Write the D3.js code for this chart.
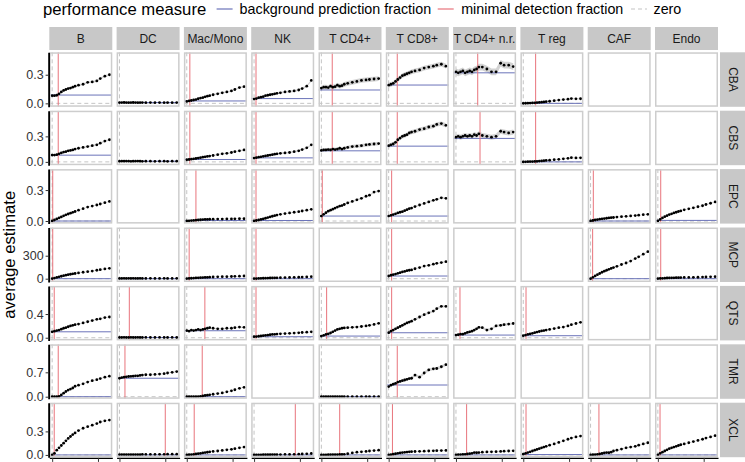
<!DOCTYPE html>
<html>
<head>
<meta charset="utf-8">
<script src="https://cdn.jsdelivr.net/npm/d3@7"></script>
<style>
  body { margin: 0; background: #fff; }
  svg { display: block; }
  text { font-family: "Liberation Sans", Arial, Helvetica, sans-serif; }
</style>
</head>
<body>
<script>
// facets
const methods = ["CBA", "CBS", "EPC", "MCP", "QTS", "TMR", "XCL"];
const cellTypes = ["B", "DC", "Mac/Mono", "NK", "T CD4+", "T CD8+", "T CD4+ n.r.", "T reg", "CAF", "Endo"];
const legendLabels = ["background prediction fraction", "minimal detection fraction", "zero"];

// fraction of spiked-in cells (x)
const fractions = [0, 0.02, 0.04, 0.06, 0.08, 0.1, 0.12, 0.14, 0.16, 0.18, 0.2,
                   0.23, 0.27, 0.31, 0.35, 0.39, 0.42, 0.46, 0.5];

// average estimate per method / cell type
const estCBA = {
  "B":           [0.08,0.08,0.085,0.1,0.12,0.135,0.145,0.155,0.16,0.17,0.18,0.19,0.2,0.22,0.225,0.235,0.26,0.285,0.3],
  "DC":          [0.008,0.008,0.009,0.008,0.007,0.008,0.009,0.008,0.007,0.008,0.008,0.007,0.008,0.007,0.008,0.007,0.008,0.007,0.008],
  "Mac/Mono":    [0.02,0.025,0.03,0.035,0.04,0.048,0.055,0.06,0.068,0.075,0.08,0.09,0.1,0.11,0.12,0.13,0.145,0.165,0.175],
  "NK":          [0.045,0.05,0.06,0.065,0.07,0.08,0.085,0.09,0.095,0.1,0.105,0.11,0.12,0.125,0.13,0.14,0.155,0.18,0.24],
  "T CD4+":      [0.16,0.17,0.17,0.165,0.18,0.17,0.175,0.19,0.18,0.185,0.2,0.21,0.22,0.23,0.24,0.245,0.25,0.255,0.26],
  "T CD8+":      [0.19,0.2,0.21,0.23,0.25,0.27,0.29,0.3,0.31,0.32,0.33,0.34,0.35,0.37,0.38,0.39,0.4,0.41,0.39],
  "T CD4+ n.r.": [0.33,0.32,0.33,0.34,0.32,0.33,0.34,0.33,0.35,0.36,0.38,0.38,0.36,0.33,0.33,0.42,0.4,0.4,0.385],
  "T reg":       [0,0.001,0.002,0.003,0.004,0.006,0.008,0.01,0.012,0.015,0.018,0.022,0.028,0.034,0.04,0.044,0.05,0.047,0.048]
};
const estCBS = {
  "B":           [0.08,0.08,0.085,0.095,0.105,0.115,0.12,0.13,0.135,0.14,0.15,0.16,0.17,0.18,0.19,0.2,0.22,0.245,0.26],
  "DC":          [0.008,0.008,0.008,0.009,0.008,0.007,0.008,0.008,0.009,0.008,0.007,0.008,0.008,0.007,0.008,0.008,0.007,0.008,0.008],
  "Mac/Mono":    [0.025,0.028,0.032,0.036,0.04,0.045,0.05,0.055,0.06,0.064,0.068,0.075,0.085,0.095,0.1,0.11,0.12,0.13,0.14],
  "NK":          [0.045,0.05,0.055,0.06,0.065,0.07,0.075,0.08,0.085,0.09,0.095,0.1,0.105,0.11,0.12,0.13,0.145,0.165,0.2],
  "T CD4+":      [0.135,0.14,0.14,0.145,0.14,0.15,0.145,0.15,0.16,0.15,0.16,0.17,0.18,0.185,0.19,0.2,0.205,0.21,0.215],
  "T CD8+":      [0.19,0.2,0.21,0.23,0.26,0.28,0.3,0.31,0.32,0.34,0.35,0.36,0.38,0.39,0.41,0.42,0.44,0.45,0.43],
  "T CD4+ n.r.": [0.29,0.3,0.29,0.3,0.31,0.3,0.31,0.3,0.32,0.31,0.33,0.31,0.3,0.29,0.3,0.36,0.35,0.34,0.35],
  "T reg":       [0,0.001,0.002,0.003,0.004,0.005,0.007,0.009,0.011,0.014,0.017,0.02,0.026,0.03,0.036,0.042,0.05,0.046,0.048]
};
const estEPC = {
  "B":           [0,0.01,0.02,0.03,0.04,0.05,0.06,0.068,0.076,0.084,0.092,0.105,0.12,0.135,0.145,0.155,0.165,0.178,0.19],
  "Mac/Mono":    [0,0.002,0.004,0.006,0.008,0.01,0.012,0.014,0.015,0.016,0.017,0.018,0.019,0.019,0.02,0.02,0.021,0.022,0.022],
  "NK":          [0,0.005,0.01,0.015,0.02,0.027,0.033,0.04,0.046,0.052,0.058,0.065,0.072,0.078,0.085,0.09,0.097,0.105,0.113],
  "T CD4+":      [0.048,0.065,0.08,0.095,0.105,0.115,0.125,0.135,0.145,0.15,0.16,0.175,0.19,0.205,0.22,0.24,0.25,0.28,0.29],
  "T CD8+":      [0.048,0.055,0.062,0.07,0.078,0.085,0.09,0.1,0.11,0.12,0.125,0.14,0.155,0.17,0.185,0.2,0.21,0.225,0.22],
  "CAF":         [0,0.005,0.01,0.014,0.018,0.021,0.024,0.027,0.03,0.032,0.034,0.038,0.042,0.045,0.049,0.053,0.057,0.061,0.065],
  "Endo":        [0,0.015,0.03,0.042,0.052,0.062,0.07,0.078,0.085,0.092,0.098,0.108,0.118,0.128,0.138,0.148,0.16,0.172,0.185]
};
const estMCP = {
  "B":           [2,8,16,24,32,40,46,52,58,63,68,75,84,92,100,110,118,127,135],
  "DC":          [4,4,5,4,5,4,5,4,4,5,4,4,5,4,4,5,4,4,5],
  "Mac/Mono":    [2,4,6,8,10,12,14,15,17,18,20,22,24,26,27,29,31,33,35],
  "NK":          [1,2,4,5,6,7,8,9,10,11,12,13,15,16,18,19,21,23,26],
  "T CD8+":      [35,45,52,60,70,78,88,95,105,110,115,130,145,165,175,190,200,210,222],
  "CAF":         [0,18,36,52,68,84,98,110,122,134,145,162,185,205,230,262,285,320,352],
  "Endo":        [1,3,5,7,9,10,11,12,13,14,15,16,17,18,19,21,22,24,26]
};
const estQTS = {
  "B":           [0.1,0.11,0.12,0.13,0.145,0.16,0.17,0.185,0.2,0.21,0.22,0.23,0.25,0.27,0.29,0.31,0.32,0.34,0.35],
  "DC":          [0.004,0.004,0.005,0.004,0.004,0.005,0.004,0.004,0.005,0.004,0.004,0.005,0.004,0.004,0.005,0.004,0.004,0.005,0.004],
  "Mac/Mono":    [0.12,0.11,0.13,0.12,0.13,0.14,0.13,0.14,0.15,0.16,0.17,0.16,0.15,0.15,0.16,0.16,0.17,0.18,0.175],
  "NK":          [0.017,0.02,0.025,0.03,0.035,0.04,0.045,0.05,0.055,0.058,0.062,0.066,0.07,0.074,0.078,0.083,0.088,0.094,0.1],
  "T CD4+":      [0.028,0.04,0.055,0.065,0.08,0.1,0.12,0.14,0.15,0.16,0.165,0.17,0.175,0.18,0.19,0.2,0.21,0.225,0.243],
  "T CD8+":      [0.084,0.11,0.13,0.15,0.17,0.19,0.21,0.23,0.25,0.265,0.28,0.31,0.35,0.39,0.42,0.45,0.49,0.53,0.53],
  "T CD4+ n.r.": [0.045,0.05,0.06,0.06,0.075,0.09,0.1,0.11,0.13,0.15,0.175,0.17,0.13,0.15,0.2,0.21,0.22,0.23,0.24],
  "T reg":       [0.034,0.045,0.055,0.065,0.075,0.085,0.095,0.105,0.115,0.12,0.13,0.14,0.155,0.17,0.18,0.2,0.22,0.24,0.26]
};
const estTMR = {
  "B":           [0,0,0,0.01,0.05,0.1,0.15,0.19,0.22,0.25,0.3,0.33,0.37,0.42,0.46,0.49,0.52,0.56,0.59],
  "DC":          [0.53,0.55,0.56,0.57,0.58,0.585,0.59,0.6,0.6,0.61,0.62,0.63,0.63,0.64,0.65,0.66,0.68,0.7,0.72],
  "Mac/Mono":    [0,0,0,0,0,0.005,0.01,0.02,0.035,0.045,0.055,0.07,0.09,0.11,0.14,0.17,0.2,0.24,0.27],
  "T CD4+":      [0.002,0.002,0.002,0.002,0.002,0.002,0.002,0.002,0.002,0.002,0.002,0.002,0.002,0.002,0.002,0.002,0.002,0.002,0.002],
  "T CD8+":      [0.29,0.33,0.36,0.38,0.42,0.44,0.46,0.48,0.5,0.52,0.53,0.62,0.56,0.68,0.77,0.8,0.81,0.86,0.92]
};
const estXCL = {
  "B":           [0,0.02,0.06,0.09,0.12,0.15,0.18,0.21,0.235,0.26,0.28,0.31,0.34,0.36,0.38,0.4,0.42,0.435,0.445],
  "DC":          [0.004,0.004,0.004,0.005,0.004,0.005,0.005,0.004,0.005,0.005,0.006,0.006,0.007,0.007,0.008,0.008,0.009,0.01,0.01],
  "Mac/Mono":    [0,0.002,0.005,0.008,0.012,0.016,0.02,0.025,0.03,0.034,0.038,0.045,0.05,0.058,0.065,0.072,0.08,0.09,0.1],
  "NK":          [0,0,0.001,0.001,0.002,0.002,0.003,0.003,0.004,0.004,0.005,0.005,0.006,0.007,0.008,0.01,0.012,0.014,0.018],
  "T CD4+":      [0,0,0.001,0.002,0.003,0.004,0.005,0.005,0.006,0.007,0.008,0.015,0.025,0.035,0.04,0.045,0.05,0.055,0.06],
  "T CD8+":      [0,0.005,0.01,0.015,0.02,0.025,0.03,0.033,0.036,0.039,0.042,0.044,0.046,0.048,0.05,0.052,0.054,0.056,0.058],
  "T CD4+ n.r.": [0,0.002,0.004,0.006,0.008,0.012,0.016,0.02,0.03,0.028,0.03,0.035,0.038,0.04,0.042,0.045,0.048,0.05,0.052],
  "T reg":       [0.01,0.02,0.03,0.04,0.05,0.06,0.07,0.08,0.09,0.1,0.11,0.125,0.14,0.16,0.18,0.2,0.215,0.23,0.24],
  "CAF":         [0,0.002,0.005,0.008,0.012,0.018,0.025,0.03,0.028,0.035,0.05,0.06,0.075,0.09,0.1,0.11,0.125,0.14,0.155],
  "Endo":        [0,0.02,0.035,0.05,0.065,0.08,0.09,0.1,0.11,0.12,0.13,0.14,0.155,0.17,0.185,0.2,0.215,0.23,0.245]
};

// background prediction fraction (rows = methods, cols = cell types)
const backgroundFraction = [
  [0.087, 0.008, 0.025, 0.05, 0.14, 0.192, 0.32, 0.0, null, null],
  [0.079, 0.008, 0.028, 0.047, 0.13, 0.185, 0.276, 0.0, null, null],
  [0.0, null, 0.005, 0.005, 0.048, 0.048, null, null, 0.0, 0.006],
  [0, 0, 0, 0, null, 35, null, null, 0, 0],
  [0.1, 0.004, 0.118, 0.017, 0.028, 0.084, 0.045, 0.034, null, null],
  [0, 0.53, 0, null, 0, 0.336, null, null, null, null],
  [0, 0, 0, 0, 0, 0, 0, 0.005, 0, 0]
];
// minimal detection fraction
const minDetection = [
  [0.053, null, 0.027, 0.017, 0.095, 0.075, 0.19, 0.108, null, null],
  [0.053, null, 0.027, 0.017, 0.095, 0.075, 0.21, 0.108, null, null],
  [0.005, null, 0.08, 0.017, 0.008, 0.026, null, null, 0.024, 0.025],
  [0.005, null, 0.021, 0.017, null, 0.026, null, null, 0.018, 0.025],
  [0.018, 0.086, 0.158, 0.017, 0.046, 0.026, 0.035, 0.024, null, null],
  [0.053, 0.048, 0.135, null, null, 0.075, null, null, null, null],
  [0.018, 0.4, 0.065, 0.36, 0.16, 0.033, 0.093, 0.024, 0.073, 0.019]
];
// half width of confidence band
const ciHalf = [
  [0.01, 0.003, 0.008, 0.01, 0.025, 0.025, 0.035, 0.006, 0, 0],
  [0.01, 0.003, 0.008, 0.01, 0.02, 0.025, 0.03, 0.005, 0, 0],
  [0.004, 0, 0.003, 0.004, 0.008, 0.008, 0, 0, 0.003, 0.004],
  [5, 1, 2, 1, 0, 8, 0, 0, 8, 1],
  [0.01, 0.003, 0.01, 0.005, 0.012, 0.02, 0.02, 0.008, 0, 0],
  [0.015, 0.015, 0.01, 0, 0.002, 0.04, 0, 0, 0, 0],
  [0.005, 0.002, 0.004, 0.002, 0.004, 0.004, 0.005, 0.005, 0.008, 0.005]
];
// y axis ticks per row
const yTicks = [[0, 0.3], [0, 0.3], [0, 0.3], [0, 300], [0, 0.4], [0, 0.7], [0, 0.3]];
const xTicks = [0, 0.4];

const estimates = [estCBA, estCBS, estEPC, estMCP, estQTS, estTMR, estXCL];
const yDomains = [[-0.036, 0.535], [-0.039, 0.602], [-0.025, 0.503], [-43, 668],
                  [-0.045, 0.875], [-0.06, 1.504], [-0.029, 0.666]];

const width = 745, height = 462;
const blue = "#6b73b9", red = "#e8747c", zeroCol = "#c4c4c4";
const stripFill = "#c8c8c8", borderCol = "#cdcdcd";

const svg = d3.select("body").append("svg")
  .attr("width", width)
  .attr("height", height);

const colX = d3.scaleBand().domain(cellTypes).range([49.3, 718]).paddingInner(0.064);
const rowY = d3.scaleBand().domain(methods).range([52.3, 457.2]).paddingInner(0.067);
const pw = colX.bandwidth(), ph = rowY.bandwidth();

const x = d3.scaleLinear().domain([-0.025, 0.525]).range([0, pw]);

svg.append("defs").append("clipPath").attr("id", "panelclip")
  .append("rect").attr("width", pw).attr("height", ph);

// legend
const legend = svg.append("g");
legend.append("text").attr("x", 43).attr("y", 15)
  .attr("font-size", 16.7).attr("fill", "#000").text("performance measure");
const legendKeys = [
  { x0: 216.6, tx: 239.6, color: blue, dash: null },
  { x0: 437.7, tx: 461.2, color: red, dash: null },
  { x0: 631, tx: 653.5, color: zeroCol, dash: "4,3" }
];
legendKeys.forEach((k, i) => {
  legend.append("line")
    .attr("x1", k.x0).attr("x2", k.x0 + 16).attr("y1", 9).attr("y2", 9)
    .attr("stroke", k.color).attr("stroke-width", 1.2)
    .attr("stroke-dasharray", k.dash);
  legend.append("text").attr("x", k.tx).attr("y", 14)
    .attr("font-size", 14.3).attr("fill", "#000").text(legendLabels[i]);
});

// y axis title
svg.append("text")
  .attr("transform", `translate(15,${(52.3 + 457.2) / 2}) rotate(-90)`)
  .attr("text-anchor", "middle")
  .attr("font-size", 16.7)
  .attr("fill", "#000")
  .text("average estimate");

// column strips
cellTypes.forEach(c => {
  svg.append("rect")
    .attr("x", colX(c)).attr("y", 27).attr("width", pw).attr("height", 23)
    .attr("fill", stripFill);
  svg.append("text")
    .attr("x", colX(c) + pw / 2).attr("y", 43)
    .attr("text-anchor", "middle").attr("font-size", 12).attr("fill", "#1a1a1a")
    .text(c);
});

// row strips
methods.forEach(m => {
  svg.append("rect")
    .attr("x", 720).attr("y", rowY(m)).attr("width", 25).attr("height", ph)
    .attr("fill", stripFill);
  svg.append("text")
    .attr("transform", `translate(728.5,${rowY(m) + ph / 2}) rotate(90)`)
    .attr("text-anchor", "middle").attr("font-size", 12).attr("fill", "#1a1a1a")
    .text(m);
});

methods.forEach((m, r) => {
  const y = d3.scaleLinear().domain(yDomains[r]).range([ph, 0]);
  const est = estimates[r];

  cellTypes.forEach((c, ci) => {
    const g = svg.append("g").attr("transform", `translate(${colX(c)},${rowY(m)})`);
    g.append("rect").attr("width", pw).attr("height", ph).attr("fill", "#fff");

    const vals = est[c];
    if (vals) {
      const inner = g.append("g").attr("clip-path", "url(#panelclip)");
      const pts = fractions.map((f, i) => ({ f: f, v: vals[i] }));
      const half = ciHalf[r][ci];

      // zero lines
      inner.append("line")
        .attr("x1", 0).attr("x2", pw).attr("y1", y(0)).attr("y2", y(0))
        .attr("stroke", zeroCol).attr("stroke-width", 1).attr("stroke-dasharray", "4,3");
      inner.append("line")
        .attr("x1", x(0)).attr("x2", x(0)).attr("y1", 0).attr("y2", ph)
        .attr("stroke", zeroCol).attr("stroke-width", 1).attr("stroke-dasharray", "4,3");

      if (half > 0) {
        inner.append("path")
          .datum(pts)
          .attr("d", d3.area()
            .x(d => x(d.f))
            .y0(d => y(d.v - half))
            .y1(d => y(d.v + half))
            .curve(d3.curveLinear))
          .attr("fill", "#bfbfbf").attr("opacity", 0.7);
      }

      const bg = backgroundFraction[r][ci];
      if (bg !== null) {
        inner.append("line")
          .attr("x1", 0).attr("x2", pw).attr("y1", y(bg)).attr("y2", y(bg))
          .attr("stroke", blue).attr("stroke-width", 1);
      }
      const md = minDetection[r][ci];
      if (md !== null) {
        inner.append("line")
          .attr("x1", x(md)).attr("x2", x(md)).attr("y1", 0).attr("y2", ph)
          .attr("stroke", red).attr("stroke-width", 1);
      }

      inner.selectAll("circle")
        .data(pts)
        .enter()
        .append("circle")
        .attr("cx", d => x(d.f))
        .attr("cy", d => y(d.v))
        .attr("r", 1.4)
        .attr("fill", "#000");
    }

    g.append("rect").attr("x", 0.75).attr("y", 0.75)
      .attr("width", pw - 1.5).attr("height", ph - 1.5)
      .attr("fill", "none").attr("stroke", borderCol).attr("stroke-width", 1.5);
  });

  // left axis
  const fmt = yDomains[r][1] > 10 ? d3.format("d") : d3.format(".1f");
  const ax = svg.append("g")
    .attr("transform", `translate(48.6,${rowY(m)})`)
    .call(d3.axisLeft(y).tickValues(yTicks[r]).tickFormat(fmt).tickSize(3).tickSizeOuter(0).tickPadding(2));
  ax.select(".domain").attr("stroke", "#000").attr("stroke-width", 1.8);
  ax.selectAll(".tick line").attr("stroke", "#333");
  ax.selectAll(".tick text").attr("font-size", 12.5).attr("fill", "#333")
    .attr("font-family", "Liberation Sans, Arial, sans-serif");
});

// bottom axes (tick labels fall below the visible area in the reference, so marks only)
cellTypes.forEach(c => {
  const ax = svg.append("g")
    .attr("transform", `translate(${colX(c)},${457.9})`)
    .call(d3.axisBottom(x).tickValues(xTicks).tickFormat("").tickSize(4).tickSizeOuter(0));
  ax.select(".domain").attr("stroke", "#000").attr("stroke-width", 1.4);
  ax.selectAll(".tick line").attr("stroke", "#333");
});
</script>
</body>
</html>
